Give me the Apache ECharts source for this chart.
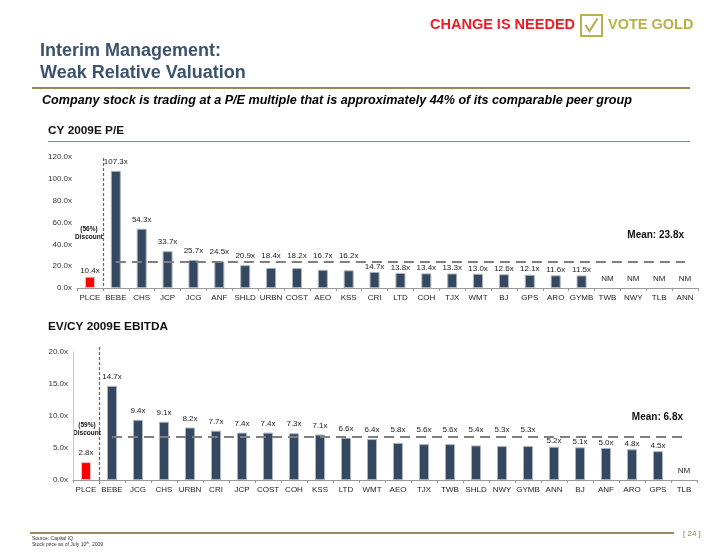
<!DOCTYPE html>
<html><head><meta charset="utf-8">
<script src="https://cdn.jsdelivr.net/npm/echarts@6/dist/echarts.min.js"></script>
<style>html,body{margin:0;padding:0;background:#fff}#c{width:720px;height:556px}</style>
</head><body><div id="c"></div>
<script>
// ---- data ----
const peCategories = ['PLCE','BEBE','CHS','JCP','JCG','ANF','SHLD','URBN','COST','AEO','KSS','CRI','LTD','COH','TJX','WMT','BJ','GPS','ARO','GYMB','TWB','NWY','TLB','ANN'];
const peValues = [10.4,107.3,54.3,33.7,25.7,24.5,20.9,18.4,18.2,16.7,16.2,14.7,13.8,13.4,13.3,13.0,12.6,12.1,11.6,11.5,null,null,null,null];
const peMean = 23.8;
const peDiscount = '(56%)';
const evCategories = ['PLCE','BEBE','JCG','CHS','URBN','CRI','JCP','COST','COH','KSS','LTD','WMT','AEO','TJX','TWB','SHLD','NWY','GYMB','ANN','BJ','ANF','ARO','GPS','TLB'];
const evValues = [2.8,14.7,9.4,9.1,8.2,7.7,7.4,7.4,7.3,7.1,6.6,6.4,5.8,5.6,5.6,5.4,5.3,5.3,5.2,5.1,5.0,4.8,4.5,null];
const evMean = 6.8;
const evDiscount = '(59%)';

// ---- layout / style ----
const FONT = 'Arial, "Liberation Sans", sans-serif';
const BAR = '#344961', RED = '#ff0000', OLIVE = '#b8b04a', GOLD = '#9c8a56', NAVY = '#3c536f';
const g1 = {left:77, top:157, width:621, height:131, max:120, interval:20, aboveMin:16};
const g2 = {left:73, top:352, width:624, height:128, max:20, interval:5, aboveMin:5.3};

function labelDistance(v, mean, g){
  const ppu = g.height / g.max;
  const top = v*ppu, line = mean*ppu;
  let c = top + 9;
  if (Math.abs(c - line) < 6) c = (v >= g.aboveMin) ? line + 6.5 : top + 5.5;
  return c - top - 5;
}
function buildData(values, mean, g){
  return values.map((v,i)=> v==null
    ? {value:0, itemStyle:{color:'rgba(0,0,0,0)', borderWidth:0}, label:{formatter:'NM', distance:4}}
    : {value:v, itemStyle: i===0 ? {color:RED, borderColor:'#f3c0c0'} : {}, label:{distance:labelDistance(v,mean,g)}});
}
function xAxis(cats, gi){
  return {type:'category', gridIndex:gi, data:cats,
    axisLine:{lineStyle:{color:'#9a9a9a', width:1}},
    axisTick:{show:true, length:3, lineStyle:{color:'#9a9a9a'}},
    axisLabel:{fontFamily:FONT, fontSize:8, color:'#222', margin:6, interval:0}};
}
function yAxis(g, gi, showLine){
  return {type:'value', gridIndex:gi, min:0, max:g.max, interval:g.interval,
    axisLine:{show:showLine, lineStyle:{color:'#c8c8c8'}}, axisTick:{show:false}, splitLine:{show:false},
    axisLabel:{fontFamily:FONT, fontSize:8, color:'#333', margin:5, formatter:v=>v.toFixed(1)+'x'}};
}
function series(cats, values, mean, g, gi){
  return {type:'bar', xAxisIndex:gi, yAxisIndex:gi, barWidth:10, silent:true,
    data:buildData(values, mean, g),
    itemStyle:{color:BAR, borderColor:'#aab3bd', borderWidth:1},
    label:{show:true, position:'top', fontFamily:FONT, fontSize:8, color:'#222', lineHeight:10,
      formatter:p=>p.value.toFixed(1)+'x'},
    markLine:{silent:true, symbol:'none', label:{show:false},
      lineStyle:{type:[10,6], color:'#808080', width:2.2},
      data:[[{coord:[cats[1], mean]},{coord:[cats[cats.length-1], mean]}]]}};
}

const chart = echarts.init(document.getElementById('c'), null, {renderer:'canvas'});
chart.setOption({
  animation:false,
  grid:[{left:g1.left, top:g1.top, width:g1.width, height:g1.height},
        {left:g2.left, top:g2.top, width:g2.width, height:g2.height}],
  xAxis:[xAxis(peCategories,0), xAxis(evCategories,1)],
  yAxis:[yAxis(g1,0,false), yAxis(g2,1,true)],
  series:[series(peCategories, peValues, peMean, g1, 0), series(evCategories, evValues, evMean, g2, 1)]
});

function sep(ai, cats, y0, y1){
  const a = chart.convertToPixel({xAxisIndex:ai}, cats[0]);
  const b = chart.convertToPixel({xAxisIndex:ai}, cats[1]);
  const x = Math.round((a+b)/2)+0.5;
  return {type:'line', shape:{x1:x, y1:y0, x2:x, y2:y1}, style:{stroke:'#666', lineWidth:1.2, lineDash:[3,2]}, silent:true};
}
function txt(text, x, y, font, fill, align){
  return {type:'text', x:x, y:y, silent:true, style:{text:text, font:font, fill:fill, align:align||'left', verticalAlign:'middle'}};
}
function hline(x1, x2, y, w, c){
  return {type:'line', silent:true, shape:{x1:x1, y1:y, x2:x2, y2:y}, style:{stroke:c, lineWidth:w}};
}
chart.setOption({graphic:[
  txt('CHANGE IS NEEDED', 430, 25, 'bold 14.5px '+FONT, '#ee1c25'),
  {type:'rect', silent:true, shape:{x:581, y:15, width:21, height:21}, style:{fill:'none', stroke:OLIVE, lineWidth:2}},
  {type:'polyline', silent:true, shape:{points:[[585.5,25],[589.5,31],[597.5,18.5]]}, style:{fill:'none', stroke:OLIVE, lineWidth:2.2}},
  txt('VOTE GOLD', 608, 25, 'bold 14.5px '+FONT, OLIVE),
  txt('Interim Management:', 40, 51, 'bold 18px '+FONT, NAVY),
  txt('Weak Relative Valuation', 40, 73, 'bold 18px '+FONT, NAVY),
  hline(32, 690, 88, 2, GOLD),
  txt('Company stock is trading at a P/E multiple that is approximately 44% of its comparable peer group', 42, 101, 'italic bold 12.6px '+FONT, '#000'),
  txt('CY 2009E P/E', 48, 131, 'bold 11.8px '+FONT, '#111'),
  hline(48, 690, 141.5, 1, GOLD),
  txt('EV/CY 2009E EBITDA', 48, 327, 'bold 11.8px '+FONT, '#111'),
  sep(0, peCategories, 158, 292),
  sep(1, evCategories, 347, 484),
  txt(peDiscount, 89, 229, 'bold 6.5px '+FONT, '#111', 'center'),
  txt('Discount', 89, 237.5, 'bold 6.5px '+FONT, '#111', 'center'),
  txt(evDiscount, 87, 425, 'bold 6.5px '+FONT, '#111', 'center'),
  txt('Discount', 87, 433.5, 'bold 6.5px '+FONT, '#111', 'center'),
  txt('Mean: '+peMean.toFixed(1)+'x', 684, 235, 'bold 10px '+FONT, '#111', 'right'),
  txt('Mean: '+evMean.toFixed(1)+'x', 683, 417, 'bold 10px '+FONT, '#111', 'right'),
  hline(30, 674, 533, 2, GOLD),
  txt('[ 24 ]', 683, 534, '8px '+FONT, '#8d7f55'),
  txt('Source: Capital IQ', 32, 539, '5px '+FONT, '#333'),
  {type:'text', x:32, y:545, silent:true, style:{text:'Stock price as of July 10{s|th}, 2009', font:'5px '+FONT, fill:'#333', verticalAlign:'middle',
     rich:{s:{fontSize:3.5, fontFamily:FONT, fill:'#333', verticalAlign:'top', padding:[0,0,3,0]}}}}
]});
</script></body></html>
